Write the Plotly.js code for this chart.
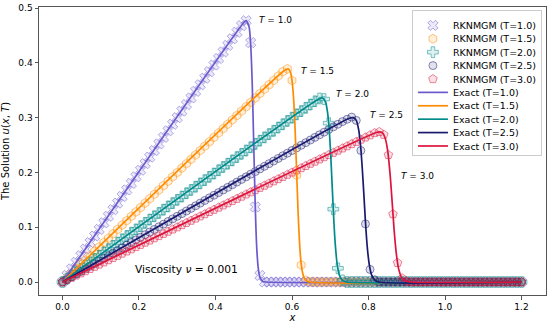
<!DOCTYPE html>
<html>
<head>
<meta charset="utf-8">
<script src="https://cdn.plot.ly/plotly-3.0.1.min.js"></script>
<style>
html,body{margin:0;padding:0;background:#fff;}
#plot{width:550px;height:324px;}
</style>
</head>
<body>
<div id="plot"></div>
<script>
// grid points of the numerical (RKNMGM) solution
var xGrid = [0,0.012,0.024,0.036,0.048,0.06,0.072,0.084,0.096,0.108,
0.12,0.132,0.144,0.156,0.168,0.18,0.192,0.204,0.216,0.228,
0.24,0.252,0.264,0.276,0.288,0.3,0.312,0.324,0.336,0.348,
0.36,0.372,0.384,0.396,0.408,0.42,0.432,0.444,0.456,0.468,
0.48,0.492,0.504,0.516,0.528,0.54,0.552,0.564,0.576,0.588,
0.6,0.612,0.624,0.636,0.648,0.66,0.672,0.684,0.696,0.708,
0.72,0.732,0.744,0.756,0.768,0.78,0.792,0.804,0.816,0.828,
0.84,0.852,0.864,0.876,0.888,0.9,0.912,0.924,0.936,0.948,
0.96,0.972,0.984,0.996,1.008,1.02,1.032,1.044,1.056,1.068,
1.08,1.092,1.104,1.116,1.128,1.14,1.152,1.164,1.176,1.188,1.2];

var numT10 = [0,0.012,0.024,0.036,0.048,0.06,0.072,0.084,0.096,0.108,
0.12,0.132,0.144,0.156,0.168,0.18,0.192,0.204,0.216,0.228,
0.24,0.252,0.264,0.276,0.288,0.3,0.312,0.324,0.336,0.348,
0.36,0.372,0.384,0.396,0.408,0.42,0.432,0.444,0.456,0.468,
0.477,0.437,0.137,0.012,0,0,0,0,0,0,
0,0,0,0,0,0,0,0,0,0,
0,0,0,0,0,0,0,0,0,0,
0,0,0,0,0,0,0,0,0,0,
0,0,0,0,0,0,0,0,0,0,
0,0,0,0,0,0,0,0,0,0,0];

var numT15 = [0,0.008,0.016,0.024,0.032,0.04,0.048,0.056,0.064,0.072,
0.08,0.088,0.096,0.104,0.112,0.12,0.128,0.136,0.144,0.152,
0.16,0.168,0.176,0.184,0.192,0.2,0.208,0.216,0.224,0.232,
0.24,0.248,0.256,0.264,0.272,0.28,0.288,0.296,0.304,0.312,
0.32,0.328,0.336,0.344,0.352,0.36,0.368,0.376,0.384,0.389,
0.368,0.195,0.031,0.003,0,0,0,0,0,0,
0,0,0,0,0,0,0,0,0,0,
0,0,0,0,0,0,0,0,0,0,
0,0,0,0,0,0,0,0,0,0,
0,0,0,0,0,0,0,0,0,0,0];

var numT20 = [0,0.006,0.012,0.018,0.024,0.03,0.036,0.042,0.048,0.054,
0.06,0.066,0.072,0.078,0.084,0.09,0.096,0.102,0.108,0.114,
0.12,0.126,0.132,0.138,0.144,0.15,0.156,0.162,0.168,0.174,
0.18,0.186,0.192,0.198,0.204,0.21,0.216,0.222,0.228,0.234,
0.24,0.246,0.252,0.258,0.264,0.27,0.276,0.282,0.288,0.294,
0.3,0.306,0.312,0.318,0.324,0.33,0.335,0.334,0.29,0.133,
0.025,0.003,0,0,0,0,0,0,0,0,
0,0,0,0,0,0,0,0,0,0,
0,0,0,0,0,0,0,0,0,0,
0,0,0,0,0,0,0,0,0,0,0];

var numT25 = [0,0.0048,0.0096,0.0144,0.0192,0.024,0.0288,0.0336,0.0384,0.0432,
0.048,0.0528,0.0576,0.0624,0.0672,0.072,0.0768,0.0816,0.0864,0.0912,
0.096,0.1008,0.1056,0.1104,0.1152,0.12,0.1248,0.1296,0.1344,0.1392,
0.144,0.1488,0.1536,0.1584,0.1632,0.168,0.1728,0.1776,0.1824,0.1872,
0.192,0.1968,0.2016,0.2064,0.2112,0.216,0.2208,0.2256,0.2304,0.2352,
0.24,0.2448,0.2496,0.2544,0.2592,0.264,0.2688,0.2736,0.2784,0.2832,
0.288,0.2928,0.297,0.301,0.295,0.24,0.106,0.023,0.004,0,
0,0,0,0,0,0,0,0,0,0,
0,0,0,0,0,0,0,0,0,0,
0,0,0,0,0,0,0,0,0,0,0];

var numT30 = [0,0.004,0.008,0.012,0.016,0.02,0.024,0.028,0.032,0.036,
0.04,0.044,0.048,0.052,0.056,0.06,0.064,0.068,0.072,0.076,
0.08,0.084,0.088,0.092,0.096,0.1,0.104,0.108,0.112,0.116,
0.12,0.124,0.128,0.132,0.136,0.14,0.144,0.148,0.152,0.156,
0.16,0.164,0.168,0.172,0.176,0.18,0.184,0.188,0.192,0.196,
0.2,0.204,0.208,0.212,0.216,0.22,0.224,0.228,0.232,0.236,
0.24,0.244,0.248,0.252,0.256,0.26,0.264,0.268,0.272,0.274,
0.269,0.232,0.124,0.035,0.007,0.001,0,0,0,0,
0,0,0,0,0,0,0,0,0,0,
0,0,0,0,0,0,0,0,0,0,0];

// exact solution curves
var exX10 = [0,0.47,0.48,0.488,0.492,0.496,0.5,0.504,0.508,0.512,0.516,0.524,0.53,1.2];
var exU10 = [0,0.47,0.477,0.465,0.433,0.363,0.25,0.136,0.06,0.024,0.009,0.001,0,0];
var exX15 = [0,0.58,0.59,0.596,0.6,0.604,0.608,0.612,0.616,0.62,0.624,0.63,0.636,0.645,1.2];
var exU15 = [0,0.386,0.389,0.383,0.368,0.337,0.281,0.204,0.126,0.068,0.033,0.0105,0.003,0,0];
var exX20 = [0,0.67,0.68,0.688,0.693,0.697,0.701,0.705,0.709,0.713,0.718,0.724,0.732,0.742,1.2];
var exU20 = [0,0.334,0.336,0.328,0.309,0.281,0.235,0.176,0.117,0.07,0.033,0.012,0.003,0,0];
var exX25 = [0,0.75,0.76,0.768,0.774,0.779,0.784,0.788,0.792,0.797,0.802,0.808,0.816,0.826,1.2];
var exU25 = [0,0.299,0.3,0.295,0.279,0.251,0.204,0.158,0.11,0.062,0.032,0.013,0.004,0,0];
var exX30 = [0,0.82,0.83,0.838,0.845,0.851,0.857,0.862,0.867,0.873,0.879,0.886,0.895,0.91,1.2];
var exU30 = [0,0.273,0.274,0.271,0.259,0.235,0.192,0.144,0.0945,0.05,0.023,0.0089,0.0026,0,0];

var labels = ['T=1.0','T=1.5','T=2.0','T=2.5','T=3.0'];
var numSeries = [numT10, numT15, numT20, numT25, numT30];
var exXs = [exX10, exX15, exX20, exX25, exX30];
var exUs = [exU10, exU15, exU20, exU25, exU30];

var colors = [[106,90,205],[255,140,0],[0,139,139],[25,25,112],[220,20,60]];
var symbols = ['x','hexagon','cross','circle','pentagon'];
function rgba(c,a){return 'rgba('+c[0]+','+c[1]+','+c[2]+','+a+')';}

var data = [];
for (var i=0;i<5;i++){
  data.push({
    type:'scatter', mode:'markers', x:xGrid, y:numSeries[i],
    name:'RKNMGM ('+labels[i]+')',
    marker:{symbol:symbols[i], size:(symbols[i]==='circle'?8:9),
      color:rgba(colors[i],0.13), line:{color:rgba(colors[i],0.5), width:1}},
    hoverinfo:'skip'
  });
}
for (var j=0;j<5;j++){
  data.push({
    type:'scatter', mode:'lines', x:exXs[j], y:exUs[j],
    name:'Exact ('+labels[j]+')',
    line:{color:rgba(colors[j],1), width:1.7, shape:'spline', smoothing:0.6},
    hoverinfo:'skip'
  });
}

var tLabels = [
  {x:0.508, y:0.478, t:'<i>T</i> = 1.0'},
  {x:0.618, y:0.385, t:'<i>T</i> = 1.5'},
  {x:0.71, y:0.343, t:'<i>T</i> = 2.0'},
  {x:0.799, y:0.305, t:'<i>T</i> = 2.5'},
  {x:0.88, y:0.193, t:'<i>T</i> = 3.0'}
];
var annotations = tLabels.map(function(a){
  return {x:a.x, y:a.y, xref:'x', yref:'y', text:a.t, showarrow:false,
    xanchor:'left', yanchor:'middle', font:{family:'DejaVu Sans', size:9, color:'#000'}};
});
annotations.push({x:0.184, y:0.022, xref:'x', yref:'y', text:'Viscosity <i>ν</i> = 0.001',
  showarrow:false, xanchor:'left', yanchor:'middle', font:{family:'DejaVu Sans', size:10.7, color:'#000'}});

var axisCommon = {
  showgrid:false, zeroline:false, showline:true, mirror:true, linecolor:'#555', linewidth:1,
  ticks:'outside', ticklen:3.5, tickwidth:1, tickcolor:'#555',
  tickfont:{family:'DejaVu Sans', size:9, color:'#000'}
};

var layout = {
  width:550, height:324,
  margin:{l:39, r:4, t:7, b:29},
  paper_bgcolor:'#fff', plot_bgcolor:'#fff',
  font:{family:'DejaVu Sans', color:'#000'},
  showlegend:true,
  legend:{x:0.992, xanchor:'right', y:0.99, yanchor:'top', bgcolor:'rgba(255,255,255,0.85)',
    bordercolor:'#ccc', borderwidth:1, font:{family:'DejaVu Sans', size:9.5, color:'#000'},
    tracegroupgap:0, itemwidth:30},
  xaxis:Object.assign({}, axisCommon, {range:[-0.0614,1.264], tickvals:[0,0.2,0.4,0.6,0.8,1.0,1.2],
    ticktext:['0.0','0.2','0.4','0.6','0.8','1.0','1.2'],
    title:{text:'<i>x</i>', font:{family:'DejaVu Sans', size:10}, standoff:2}}),
  yaxis:Object.assign({}, axisCommon, {range:[-0.0237,0.502], tickvals:[0,0.1,0.2,0.3,0.4,0.5],
    ticktext:['0.0','0.1','0.2','0.3','0.4','0.5'],
    title:{text:'The Solution <i>u</i>(<i>x</i>, <i>T</i>)', font:{family:'DejaVu Sans', size:10}, standoff:6}}),
  annotations:annotations
};

Plotly.newPlot('plot', data, layout, {staticPlot:true, displayModeBar:false}).then(function(gd){
  var leg = gd.querySelector('.legend');
  if(!leg) return;
  var items = leg.querySelectorAll('.traces');
  var step = 13.4, orig = 19, y0 = null;
  items.forEach(function(it, k){
    var tr = it.getAttribute('transform') || '';
    var m = /translate\(\s*([-\d.e]+)[ ,]+([-\d.e]+)\s*\)/.exec(tr);
    if(!m) return;
    var x = parseFloat(m[1]), y = parseFloat(m[2]);
    if(y0 === null) y0 = y;
    it.setAttribute('transform','translate('+x+','+(y0+k*step)+')');
  });
  var bg = leg.querySelector('rect.bg');
  if(bg){
    var h = parseFloat(bg.getAttribute('height'));
    bg.setAttribute('height', h - (orig-step)*items.length);
  }
});
</script>
</body>
</html>
